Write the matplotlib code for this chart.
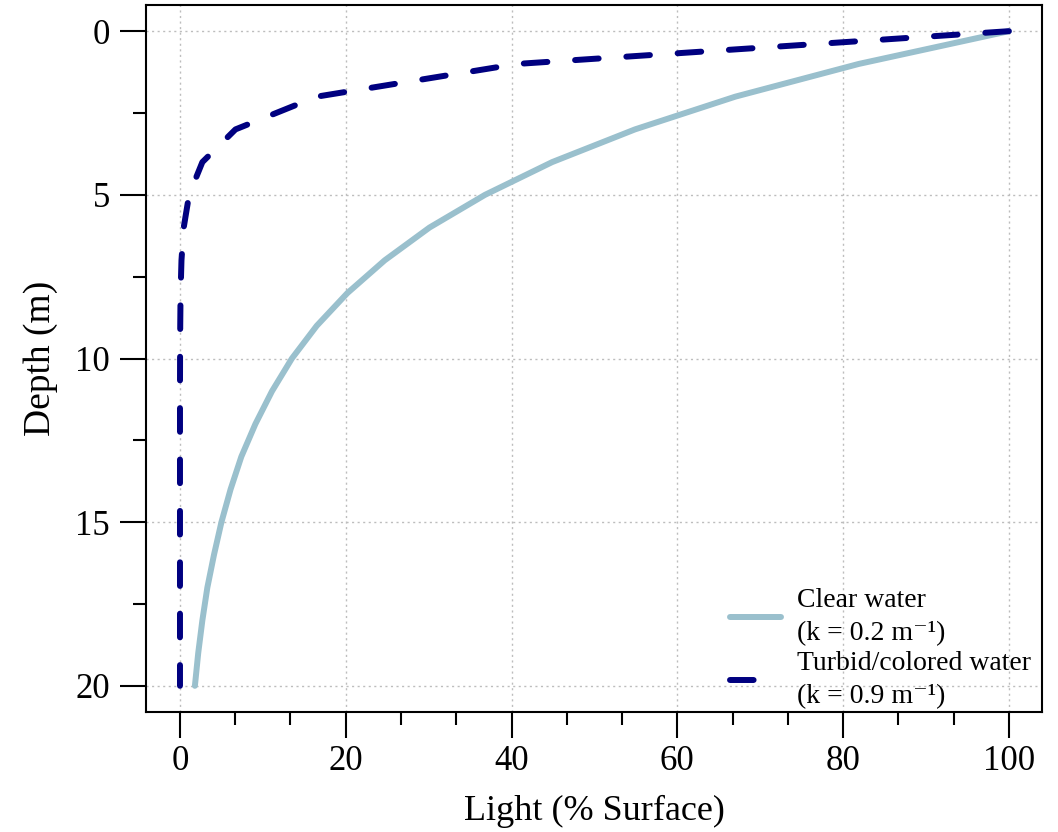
import numpy as np
import matplotlib
matplotlib.use("Agg")
import matplotlib.pyplot as plt
from matplotlib.ticker import MultipleLocator

# depth (m) and light (% of surface)
depth = [0, 1, 2, 3, 4, 5, 6, 7, 8, 9, 10,
         11, 12, 13, 14, 15, 16, 17, 18, 19, 20]
light_clear = [100, 81.9, 67.0, 54.9, 44.9, 36.8, 30.1, 24.7, 20.2, 16.5, 13.5,
               11.1, 9.1, 7.4, 6.1, 5.0, 4.1, 3.3, 2.7, 2.2, 1.8]
light_turbid = [100, 40.7, 16.5, 6.7, 2.7, 1.1, 0.45, 0.18, 0.07, 0.03, 0.01,
                0.0, 0.0, 0.0, 0.0, 0.0, 0.0, 0.0, 0.0, 0.0, 0.0]

labels = ["Clear water\n(k = 0.2 m\u207b\u00b9)",
          "Turbid/colored water\n(k = 0.9 m\u207b\u00b9)"]
colors = ["#9AC0CD", "#000080"]

plt.rcParams['font.family'] = ['Liberation Serif', 'DejaVu Serif']
plt.rcParams['lines.scale_dashes'] = False

fig = plt.figure(figsize=(10.58, 8.32), dpi=100)
ax = fig.add_axes([146 / 1058, 120 / 832, 896 / 1058, 707 / 832])

ax.plot(light_clear, depth, color=colors[0], lw=4.3,
        solid_capstyle='round', solid_joinstyle='round', label=labels[0], zorder=3)
ax.plot(light_turbid, depth, color=colors[1], lw=4.3, dashes=(17, 20),
        dash_capstyle='round', dash_joinstyle='round', label=labels[1], zorder=4)

ax.set_xlim(-4.1, 104.0)
ax.set_ylim(20.8, -0.8)

ax.xaxis.set_major_locator(MultipleLocator(20))
ax.xaxis.set_minor_locator(MultipleLocator(20 / 3))
ax.yaxis.set_major_locator(MultipleLocator(5))
ax.yaxis.set_minor_locator(MultipleLocator(2.5))

ax.tick_params(which='major', length=19, width=1.5, labelsize=25, pad=5)
ax.tick_params(which='minor', length=9.5, width=1.5)
ax.tick_params(axis='y', which='major', pad=7)
for s in ax.spines.values():
    s.set_linewidth(1.5)

ax.grid(True, which='major', color='#bdbdbd', linestyle=(0, (1.5, 2.5)), lw=1)
ax.set_axisbelow(True)

ax.set_xlabel("Light (% Surface)", fontsize=26, labelpad=12)
ax.set_ylabel("Depth (m)", fontsize=27, labelpad=12)

leg = ax.legend(loc='upper left', bbox_to_anchor=(730 / 1058, 1 - 588 / 832),
                bbox_transform=fig.transFigure, frameon=False, fontsize=20,
                handlelength=1.85, handletextpad=0.55, labelspacing=0.15,
                borderpad=0, borderaxespad=0)
for t in leg.get_texts():
    t.set_linespacing(1.45)

fig.savefig("out.png", dpi=100)
